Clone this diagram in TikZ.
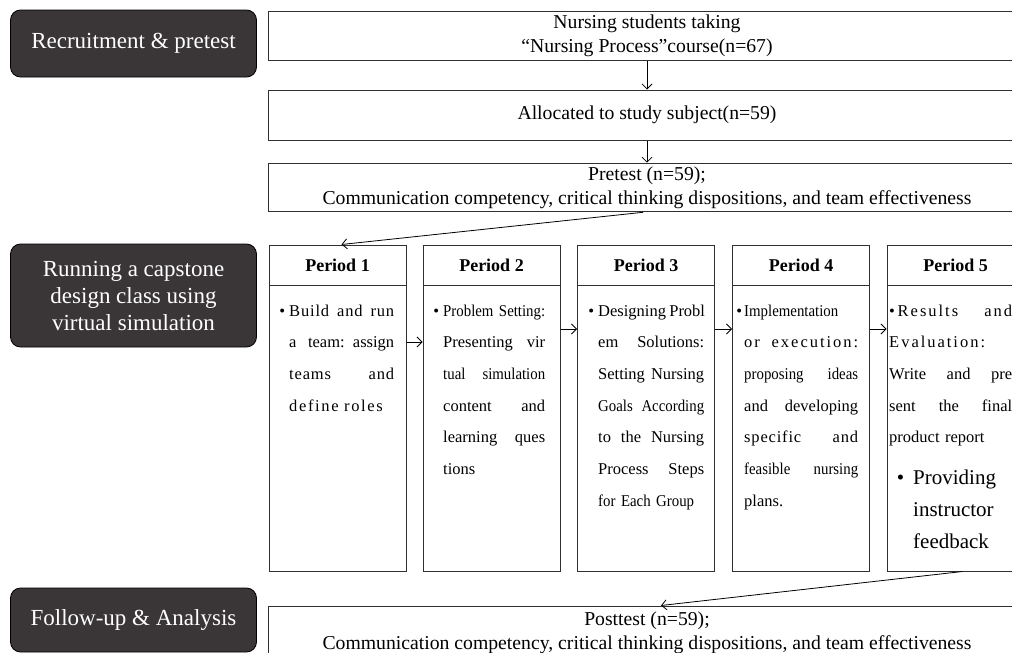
\documentclass[tikz,border=0pt]{standalone}
\usepackage{fontspec}
\setmainfont{Liberation Serif}
\usetikzlibrary{arrows.meta}

\definecolor{stagegray}{HTML}{3A3536}
\definecolor{linegray}{HTML}{303030}

% justified line, letter spaced and condensed text
\newcommand{\jl}[1]{\leavevmode\hbox to \hsize{\spaceskip=0.25em plus 3em minus 0.05em #1}}
\newcommand{\spc}{\addfontfeature{LetterSpace=5}}
\newcommand{\wspc}{\addfontfeature{LetterSpace=12}}
\newcommand{\cnd}{\addfontfeature{FakeStretch=0.9}}

\tikzset{
  stage/.style={draw=black, fill=stagegray, rounded corners=10pt, text=white,
    minimum width=246pt, align=center, line width=0.8pt,
    font=\fontsize{23}{27}\selectfont},
  topbox/.style={draw=linegray, line width=1pt, minimum width=758pt,
    align=center, font=\fontsize{19.7}{24}\selectfont},
  phead/.style={draw=linegray, line width=1pt, minimum width=137pt,
    minimum height=40pt, font=\bfseries\fontsize{18}{20}\selectfont},
  pbody/.style={draw=linegray, line width=1pt, minimum width=137pt,
    minimum height=286pt},
  ptext/.style={anchor=base west, inner sep=0pt, align=left,
    font=\fontsize{16.5}{31.7}\selectfont},
  arr/.style={-{Straight Barb[length=5pt,width=10pt]}, line width=0.8pt}
}

\begin{document}
\begin{tikzpicture}[x=1pt,y=-1pt]
\clip (0,0) rectangle (1012,653);

% stages on the left
\node[stage, minimum height=67pt] (recruit) at (133.5,43.5) {Recruitment \& pretest};
\node[stage, minimum height=103pt] (running) at (133.5,295.5)
  {Running a capstone\\design class using\\virtual simulation};
\node[stage, minimum height=64pt] (follow) at (133.5,620) {Follow-up \& Analysis};

% flow boxes
\node[topbox, minimum height=49pt] (students) at (647,35.5)
  {Nursing students taking\\“Nursing Process”course(n=67)};
\node[topbox, minimum height=50pt] (alloc) at (647,115)
  {Allocated to study subject(n=59)};
\node[topbox, minimum height=48pt] (pretest) at (647,187.5)
  {Pretest (n=59);\\Communication competency, critical thinking dispositions, and team effectiveness};
\node[topbox, minimum height=54pt] (posttest) at (647,633)
  {Posttest (n=59);\\Communication competency, critical thinking dispositions, and team effectiveness};

% periods
\node[phead] (head1) at (337.5,265) {Period 1};
\node[pbody] (body1) at (337.5,428) {};
\node[phead] (head2) at (491.5,265) {Period 2};
\node[pbody] (body2) at (491.5,428) {};
\node[phead] (head3) at (646,265) {Period 3};
\node[pbody] (body3) at (646,428) {};
\node[phead] (head4) at (801,265) {Period 4};
\node[pbody] (body4) at (801,428) {};
\node[phead] (head5) at (955.5,265) {Period 5};
\node[pbody] (body5) at (955.5,428) {};

\node[ptext, text width=105pt] (text1) at (289,316)
  {\llap{\textbullet\hspace{4pt}}{\spc\jl{Build and run}}\\\jl{a team: assign}\\{\spc\jl{teams and}}\\{\addfontfeature{LetterSpace=10}define roles}};
\node[ptext, text width=102pt] (text2) at (443,316)
  {\llap{\textbullet\hspace{4pt}}{\cnd\jl{Problem Setting:}}\\\jl{Presenting vir}\\{\cnd\jl{tual simulation}}\\\jl{content and}\\\jl{learning ques}\\tions};
\node[ptext, text width=106pt] (text3) at (598,316)
  {\llap{\textbullet\hspace{4pt}}\jl{Designing Probl}\\\jl{em Solutions:}\\\jl{Setting Nursing}\\{\cnd\jl{Goals According}}\\\jl{to the Nursing}\\\jl{Process Steps}\\{\cnd for Each Group}};
\node[ptext, text width=114pt] (text4) at (744,316)
  {\llap{\textbullet\hspace{2pt}}{\cnd Implementation}\\{\wspc\jl{or execution:}}\\{\cnd\jl{proposing ideas}}\\\jl{and developing}\\{\spc\jl{specific and}}\\{\cnd\jl{feasible nursing}}\\plans.};
\node[ptext, text width=123pt] (text5) at (889,316)
  {{\wspc\jl{\textbullet\,Results and}}\\{\wspc Evaluation:}\\\jl{Write and pre}\\\jl{sent the final}\\product report};
\node[ptext, text width=100pt, font=\fontsize{21}{32}\selectfont] (text5b) at (913,484)
  {\llap{\textbullet\hspace{9pt}}Providing\\instructor\\feedback};

% connectors
\draw[arr] (students) -- (alloc);
\draw[arr] (alloc) -- (pretest);
\draw[arr] ([xshift=-4pt]pretest.south) -- ([xshift=4pt]head1.north);
\draw[arr] ([yshift=86pt]body1.east) -- ([yshift=86pt]body2.west);
\draw[arr] ([yshift=99pt]body2.east) -- ([yshift=99pt]body3.west);
\draw[arr] ([yshift=99pt]body3.east) -- ([yshift=99pt]body4.west);
\draw[arr] ([yshift=99pt]body4.east) -- ([yshift=99pt]body5.west);
\draw[arr] ([xshift=7pt]body5.south) -- ([xshift=14pt]posttest.north);
\end{tikzpicture}
\end{document}
